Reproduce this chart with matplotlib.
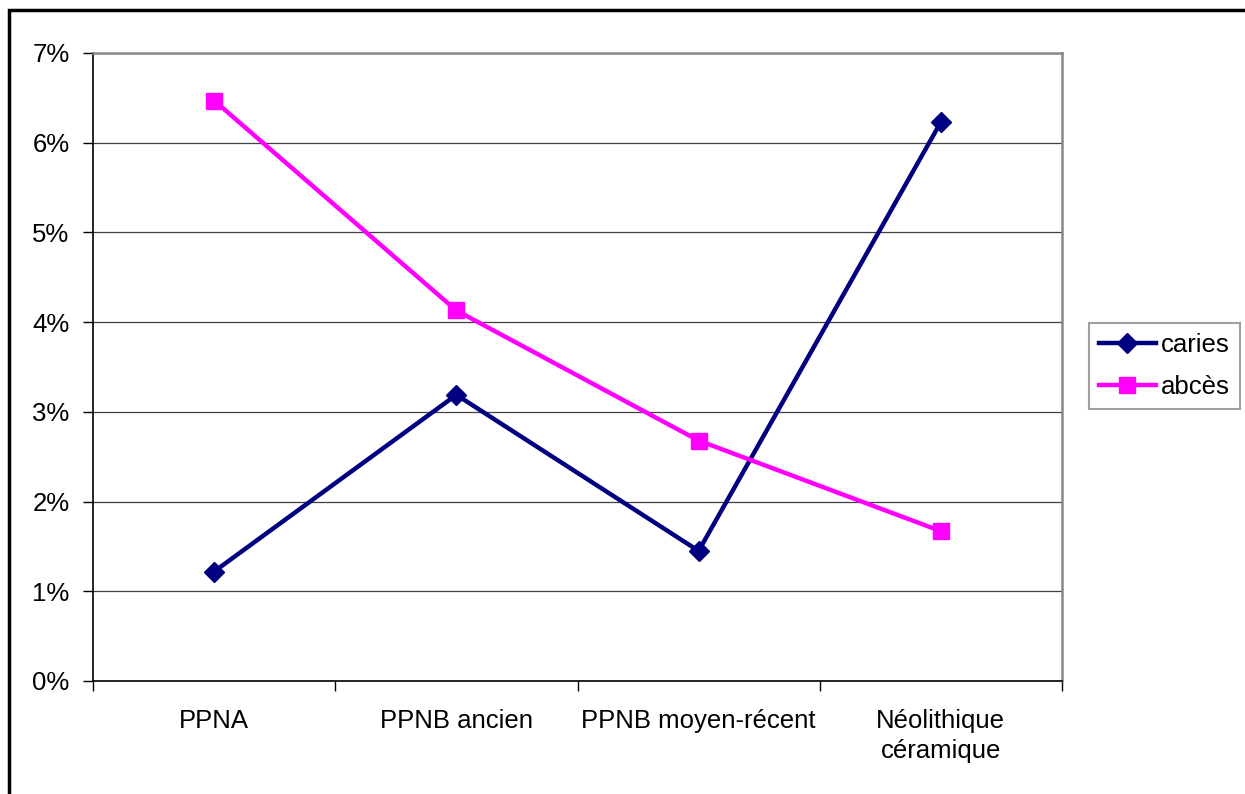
import matplotlib.pyplot as plt
import matplotlib.patches as mpatches
from matplotlib.ticker import FuncFormatter

categories = ['PPNA', 'PPNB ancien', 'PPNB moyen-récent', 'Néolithique\ncéramique']
caries = [1.22, 3.19, 1.45, 6.23]
abces = [6.47, 4.13, 2.68, 1.67]
yticks = [0, 1, 2, 3, 4, 5, 6, 7]

plt.rcParams['font.family'] = ['Liberation Sans', 'DejaVu Sans']
plt.rcParams['font.size'] = 18.5

fig = plt.figure(figsize=(12.45, 7.94), dpi=100)
ax = fig.add_axes([93/1245, 1-681/794, (1062-93)/1245, (681-53)/794])

x = list(range(len(categories)))
ax.plot(x, caries, color='#000080', lw=3.2, marker='D', ms=10,
        label='caries', zorder=3)
ax.plot(x, abces, color='#FF00FF', lw=3.2, marker='s', ms=12,
        label='abcès', zorder=3)

ax.set_ylim(0, 7)
ax.set_xlim(-0.5, len(categories) - 0.5)
ax.set_yticks(yticks)
ax.yaxis.set_major_formatter(FuncFormatter(lambda v, p: '%d%%' % v))
ax.set_xticks(x)
ax.set_xticklabels(categories, linespacing=1.35)
ax.set_xticks([i - 0.5 for i in range(len(categories) + 1)], minor=True)
ax.tick_params(axis='x', which='major', length=0, pad=20)
ax.tick_params(axis='x', which='minor', length=7, width=1, direction='out')
ax.tick_params(axis='y', length=7, width=1, direction='out', pad=10)
ax.grid(axis='y', color='#404040', lw=0.9)
ax.set_axisbelow(True)
for s in ['top', 'right']:
    ax.spines[s].set_color('#888888')
    ax.spines[s].set_linewidth(1.8)
for s in ['left', 'bottom']:
    ax.spines[s].set_color('black')
    ax.spines[s].set_linewidth(1.2)

leg = fig.legend(loc='center', bbox_to_anchor=(1164.5/1245, 1-366/794),
                 frameon=True, fancybox=False, handlelength=2.2,
                 borderpad=0.4, labelspacing=0.7, handletextpad=0.2,
                 fontsize=18.5)
leg.get_frame().set_edgecolor('#888888')
leg.get_frame().set_linewidth(1.5)

# outer chart border (cropped at right and bottom)
fig.patches.append(mpatches.Rectangle((9/1245, -0.1), 1.2, 1 - 10/794 + 0.1,
                                      transform=fig.transFigure, fill=False,
                                      edgecolor='black', lw=2.5))

fig.savefig('out.png', dpi=100)
